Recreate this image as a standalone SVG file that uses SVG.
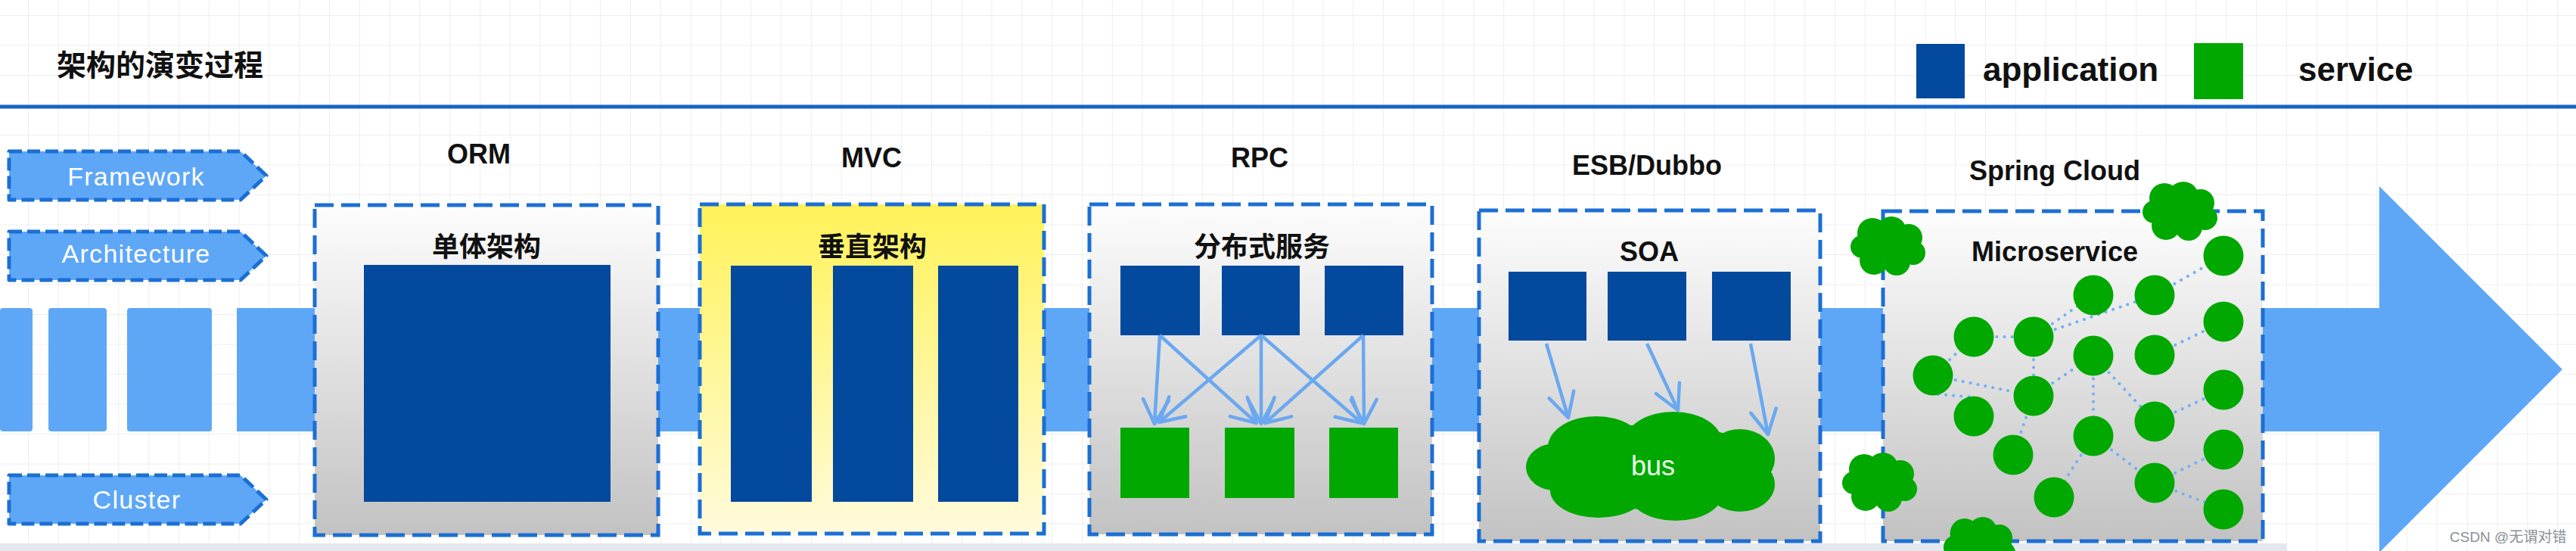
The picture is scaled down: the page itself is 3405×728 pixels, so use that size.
<svg xmlns="http://www.w3.org/2000/svg" width="3405" height="728" viewBox="0 0 3405 728">
<style>
.lat{font-family:"Liberation Sans",Arial,"Noto Sans CJK SC",sans-serif}
.cjk{font-family:"Noto Sans CJK SC","Liberation Sans",sans-serif;font-weight:bold}
.head{font-family:"Liberation Sans",Arial,sans-serif;font-weight:bold;font-size:36px;fill:#111;text-anchor:middle}
.sub{font-size:36px;fill:#111;text-anchor:middle}
.tagtxt{font-family:"Liberation Sans",Arial,sans-serif;font-size:34px;letter-spacing:1.3px;fill:#ffffff;text-anchor:middle}
.tag{fill:#5ea7f7;stroke:#1b6fd4;stroke-width:5;stroke-dasharray:17 7;stroke-linejoin:round}
.box{stroke:#1b6fd4;stroke-width:5;stroke-dasharray:25 10;fill:url(#gray)}
.app{fill:#03499d}
.svc{fill:#00a800}
.band{fill:#5ea7f7}
.arr{stroke:#6aa8f0;stroke-width:4.5;fill:none;marker-end:url(#vhead)}
.dot{stroke:#72b0f2;stroke-width:4;stroke-linecap:round;stroke-dasharray:0.1 10;fill:none}
</style>
<defs>
<pattern id="grid" patternUnits="userSpaceOnUse" x="37" y="20" width="39.8" height="39.5">
<path d="M0,0 V39.5 M0,0 H39.8" stroke="#eeeeee" stroke-width="2" fill="none"/>
</pattern>
<linearGradient id="gray" x1="0" y1="0" x2="0" y2="1">
<stop offset="0" stop-color="#fdfdfd"/>
<stop offset="1" stop-color="#c2c2c2"/>
</linearGradient>
<linearGradient id="yellow" x1="0" y1="0" x2="0" y2="1">
<stop offset="0" stop-color="#fff258"/>
<stop offset="1" stop-color="#fffbdc"/>
</linearGradient>
<marker id="vhead" markerUnits="userSpaceOnUse" markerWidth="44" markerHeight="44" viewBox="-38 -22 44 44" refX="0" refY="0" orient="auto">
<path d="M-32,-17 L0,0 L-32,17" fill="none" stroke="#6aa8f0" stroke-width="4.5" stroke-linecap="round" stroke-linejoin="round"/>
</marker>
<g id="cloud">
<circle cx="30" cy="22" r="20"/>
<circle cx="55" cy="20" r="20"/>
<circle cx="78" cy="28" r="18"/>
<circle cx="16" cy="40" r="15"/>
<circle cx="84" cy="48" r="16"/>
<circle cx="32" cy="58" r="19"/>
<circle cx="62" cy="60" r="18"/>
<ellipse cx="50" cy="40" rx="38" ry="28"/>
</g>
</defs>

<rect x="0" y="0" width="3405" height="728" fill="#ffffff"/>
<rect x="0" y="0" width="3405" height="728" fill="url(#grid)"/>
<rect x="0" y="718" width="3023" height="10" fill="#e4e7ee"/>

<g id="title">
<text class="cjk" x="75" y="100" font-size="39" fill="#111">架构的演变过程</text>
<rect x="0" y="138.5" width="3405" height="5" fill="#1565c8"/>
</g>

<g id="legend">
<rect class="app" x="2533" y="58" width="64" height="72"/>
<text class="lat" x="2621" y="107" font-size="44" font-weight="bold" fill="#111">application</text>
<rect class="svc" x="2900" y="57" width="65" height="74"/>
<text class="lat" x="3038" y="107" font-size="44" font-weight="bold" fill="#111">service</text>
</g>

<g id="timeline">
<rect class="band" x="0" y="407" width="43" height="163" rx="4"/>
<rect class="band" x="64" y="407" width="77" height="163" rx="4"/>
<rect class="band" x="168" y="407" width="112" height="163" rx="4"/>
<path class="band" d="M313,407 H3145 V246 L3387,488 L3145,730 V570 H313 Z"/>
</g>

<g id="tag-framework">
<path class="tag" d="M12,200 H318 L352,232 L318,264 H12 Z"/>
<text class="tagtxt" x="180" y="245">Framework</text>
</g>
<g id="tag-architecture">
<path class="tag" d="M12,306 H318 L352,338 L318,370 H12 Z"/>
<text class="tagtxt" x="180" y="347">Architecture</text>
</g>
<g id="tag-cluster">
<path class="tag" d="M12,628 H318 L352,660 L318,692 H12 Z"/>
<text class="tagtxt" x="181" y="672">Cluster</text>
</g>

<g id="orm">
<text class="head" x="633" y="216">ORM</text>
<rect class="box" x="416" y="271" width="454" height="436"/>
<text class="cjk sub" x="643" y="339">单体架构</text>
<rect class="app" x="481" y="350" width="326" height="313"/>
</g>

<g id="mvc">
<text class="head" x="1152" y="221">MVC</text>
<rect class="box" x="925" y="270" width="455" height="435" style="fill:url(#yellow)"/>
<text class="cjk sub" x="1153" y="339">垂直架构</text>
<rect class="app" x="966" y="351" width="107" height="312"/>
<rect class="app" x="1101" y="351" width="106" height="312"/>
<rect class="app" x="1240" y="351" width="106" height="312"/>
</g>

<g id="rpc">
<text class="head" x="1665" y="221">RPC</text>
<rect class="box" x="1440" y="270" width="453" height="436"/>
<text class="cjk sub" x="1668" y="339">分布式服务</text>
<rect class="app" x="1481" y="351" width="105" height="92"/>
<rect class="app" x="1615" y="351" width="103" height="92"/>
<rect class="app" x="1751" y="351" width="104" height="92"/>
<rect class="svc" x="1481" y="565" width="91" height="93"/>
<rect class="svc" x="1619" y="565" width="92" height="93"/>
<rect class="svc" x="1757" y="565" width="91" height="93"/>
</g>

<g id="soa">
<text class="head" x="2177" y="231">ESB/Dubbo</text>
<rect class="box" x="1955" y="278" width="451" height="437"/>
<text class="head" x="2180" y="345">SOA</text>
<rect class="app" x="1994" y="359" width="103" height="91"/>
<rect class="app" x="2125" y="359" width="104" height="91"/>
<rect class="app" x="2263" y="359" width="104" height="91"/>
<g id="bus" class="svc">
<ellipse cx="2185" cy="617" rx="155" ry="56"/>
<ellipse cx="2110" cy="591" rx="64" ry="41"/>
<ellipse cx="2212" cy="584" rx="64" ry="40"/>
<ellipse cx="2300" cy="606" rx="46" ry="39"/>
<ellipse cx="2056" cy="617" rx="39" ry="31"/>
<ellipse cx="2113" cy="648" rx="64" ry="36"/>
<ellipse cx="2215" cy="652" rx="62" ry="36"/>
<ellipse cx="2300" cy="640" rx="46" ry="36"/>
</g>
<text class="lat" x="2185" y="628" font-size="36" fill="#eaffea" text-anchor="middle">bus</text>
</g>

<g id="microservice">
<text class="head" x="2716" y="238">Spring Cloud</text>
<rect class="box" x="2489" y="279" width="502" height="436"/>
<text class="head" x="2716" y="345">Microservice</text>
</g>

<g id="connectors">
<path class="arr" d="M1533,443 L1526,560"/>
<path class="arr" d="M1533,443 L1661,559"/>
<path class="arr" d="M1667,443 L1532,558"/>
<path class="arr" d="M1667,443 L1667,560"/>
<path class="arr" d="M1667,443 L1800,559"/>
<path class="arr" d="M1802,443 L1803,560"/>
<path class="arr" d="M1802,443 L1672,559"/>
<path class="arr" d="M2044,454 L2073,552"/>
<path class="arr" d="M2177,454 L2218,542"/>
<path class="arr" d="M2314,454 L2337,574"/>
<path class="dot" d="M2555,496 L2609,445"/>
<path class="dot" d="M2609,445 L2688,445"/>
<path class="dot" d="M2688,445 L2767,390"/>
<path class="dot" d="M2688,445 L2848,390"/>
<path class="dot" d="M2848,390 L2939,338"/>
<path class="dot" d="M2848,469 L2939,425"/>
<path class="dot" d="M2555,496 L2688,523"/>
<path class="dot" d="M2562,521 L2612,525"/>
<path class="dot" d="M2688,445 L2688,523"/>
<path class="dot" d="M2688,523 L2767,470"/>
<path class="dot" d="M2688,523 L2661,601"/>
<path class="dot" d="M2767,470 L2767,576"/>
<path class="dot" d="M2767,470 L2848,557"/>
<path class="dot" d="M2767,576 L2715,657"/>
<path class="dot" d="M2767,576 L2848,638"/>
<path class="dot" d="M2848,557 L2939,515"/>
<path class="dot" d="M2848,638 L2939,594"/>
<path class="dot" d="M2848,638 L2939,673"/>
</g>

<g id="services" class="svc">
<circle cx="2555" cy="496" r="26.5"/>
<circle cx="2609" cy="445" r="26.5"/>
<circle cx="2688" cy="445" r="26.5"/>
<circle cx="2767" cy="390" r="26.5"/>
<circle cx="2848" cy="390" r="26.5"/>
<circle cx="2939" cy="338" r="26.5"/>
<circle cx="2939" cy="425" r="26.5"/>
<circle cx="2767" cy="470" r="26.5"/>
<circle cx="2848" cy="469" r="26.5"/>
<circle cx="2688" cy="523" r="26.5"/>
<circle cx="2609" cy="550" r="26.5"/>
<circle cx="2661" cy="601" r="26.5"/>
<circle cx="2767" cy="576" r="26.5"/>
<circle cx="2848" cy="557" r="26.5"/>
<circle cx="2939" cy="515" r="26.5"/>
<circle cx="2715" cy="657" r="26.5"/>
<circle cx="2848" cy="638" r="26.5"/>
<circle cx="2939" cy="594" r="26.5"/>
<circle cx="2939" cy="673" r="26.5"/>
</g>

<g id="clouds" class="svc">
<use href="#cloud" transform="translate(2831,240)"/>
<use href="#cloud" transform="translate(2445,286)"/>
<use href="#cloud" transform="translate(2434,598)"/>
<use href="#cloud" transform="translate(2568,683) scale(0.96,1)"/>
</g>

<text id="watermark" class="lat" x="3238" y="716" font-size="19" fill="#8a8f96">CSDN @无谓对错</text>
</svg>
